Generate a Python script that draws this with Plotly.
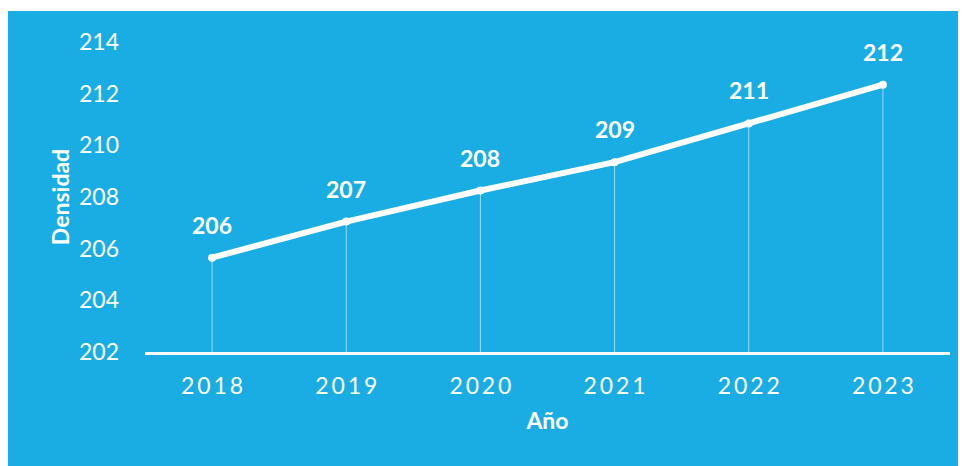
import plotly.graph_objects as go

years = ["2018", "2019", "2020", "2021", "2022", "2023"]
tick_text = ["2\u20090\u20091\u20098", "2\u20090\u20091\u20099", "2\u20090\u20092\u20090",
             "2\u20090\u20092\u20091", "2\u20090\u20092\u20092", "2\u20090\u20092\u20093"]
densidad = [205.65, 207.05, 208.25, 209.35, 210.85, 212.35]
labels = ["206", "207", "208", "209", "211", "212"]
y_min = 202
y_ticks = [202, 204, 206, 208, 210, 212, 214]

BG = "#1AADE4"
FONT = "Lato, 'Open Sans', sans-serif"

W, H = 958, 458
L, R, T, B = 137, 16, 34, 114
ph = H - T - B

fig = go.Figure()
fig.add_trace(go.Scatter(
    x=years, y=densidad,
    mode="lines+markers",
    line=dict(color="white", width=6),
    marker=dict(color="white", size=8),
    error_y=dict(type="data", symmetric=False, array=[0] * len(densidad),
                 arrayminus=[v - y_min for v in densidad],
                 color="rgba(255,255,255,0.55)", thickness=1, width=0),
    cliponaxis=False,
    showlegend=False,
))

# value labels (category index on the x axis)
for i, (y, t) in enumerate(zip(densidad, labels)):
    fig.add_annotation(x=i, y=y, xref="x", yref="y", text=f"<b>{t}</b>", showarrow=False,
                       yshift=33, font=dict(size=23, color="white", family=FONT))

# white strip at the very top (page starts a few px lower in the reference)
fig.add_shape(type="rect", xref="paper", yref="paper", layer="below",
              x0=-L / (W - L - R) - 0.01, x1=1 + R / (W - L - R) + 0.01,
              y0=1 + (T - 3) / ph, y1=1 + (T + 1) / ph,
              fillcolor="white", line=dict(width=0))

fig.update_layout(
    width=W, height=H,
    paper_bgcolor=BG, plot_bgcolor=BG,
    margin=dict(l=L, r=R, t=T, b=B),
    font=dict(family=FONT, color="white"),
    xaxis=dict(
        type="category", range=[-0.5, 5.5],
        tickvals=years, ticktext=tick_text,
        tickfont=dict(size=23, color="white"),
        showgrid=False, zeroline=False,
        showline=True, linecolor="white", linewidth=3,
        ticks="", ticklabelstandoff=11,
        title=dict(text="<b>Año</b>", font=dict(size=23, color="white"), standoff=16),
    ),
    yaxis=dict(
        range=[202, 214], tickvals=y_ticks,
        tickfont=dict(size=23, color="white"),
        showgrid=False, zeroline=False, showline=False,
        ticks="", ticklabelstandoff=25,
        title=dict(text="<b>Densidad</b>", font=dict(size=23, color="white"), standoff=2),
    ),
)

fig.write_html("out.html")
